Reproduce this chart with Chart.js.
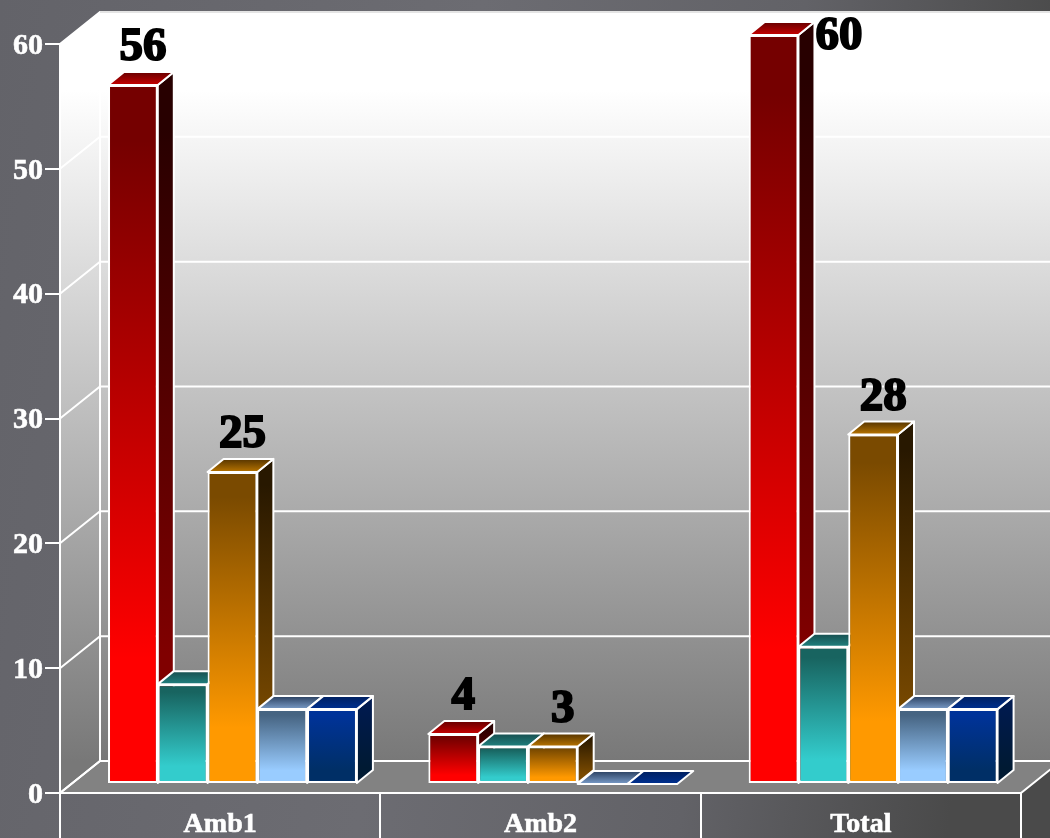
<!DOCTYPE html>
<html>
<head>
<meta charset="utf-8">
<style>
  html, body { margin: 0; padding: 0; background: #66666c; overflow: hidden; }
  canvas { display: block; }
</style>
<script src="https://cdn.jsdelivr.net/npm/chart.js@4/dist/chart.umd.min.js"></script>
</head>
<body>
<canvas id="barChart" width="1050" height="838"></canvas>
<script>
const categories = ['Amb1', 'Amb2', 'Total'];
const series1 = [56, 4, 60];
const series2 = [8, 3, 11];
const series3 = [25, 3, 28];
const series4 = [6, 0, 6];
const series5 = [6, 0, 6];
const yTicks = [0, 10, 20, 30, 40, 50, 60];

const SERIF = '"Liberation Serif", serif';
const WALL_X = 40, WALL_Y = 32;     // depth of the chart box
const BAR_X = 12.3, BAR_Y = 9;      // where the bars sit on the floor
const DEPTH_X = 16, DEPTH_Y = 13;   // depth of one bar

// colours: [front top, front bottom, side top, side bottom, lid back, lid front]
const palettes = [
    ['#750000', '#ff0000', '#280000', '#800000', '#660000', '#c80000'],
    ['#186460', '#33cccc', '#0c3230', '#186460', '#184f50', '#20807e'],
    ['#7a4a00', '#ff9900', '#281800', '#7a4a00', '#553400', '#b87400'],
    ['#466482', '#99ccff', '#1c2a3a', '#466482', '#2a4060', '#7a9cc8'],
    ['#003399', '#002f66', '#001a50', '#001a33', '#002060', '#003090']
];

function barGradient(c) {
    const pal = palettes[c.datasetIndex];
    if (!c.parsed) return pal[1];
    const y = c.chart.scales.y;
    const top = y.getPixelForValue(c.parsed.y), base = y.getPixelForValue(0);
    // options also get resolved once before the layout has run
    if (!Number.isFinite(top) || !Number.isFinite(base) || base - top < 1) return pal[1];
    const g = c.chart.ctx.createLinearGradient(0, top, 0, base);
    g.addColorStop(0.08, pal[0]);
    g.addColorStop(0.82, pal[1]);
    return g;
}

function makeSet(values) {
    return {
        data: values,
        backgroundColor: barGradient,
        borderColor: '#ffffff',
        borderWidth: 2,
        borderSkipped: false,
        barPercentage: 1,
        categoryPercentage: 0.777
    };
}

function poly(ctx, pts, fill) {
    ctx.beginPath();
    pts.forEach((p, i) => i ? ctx.lineTo(p[0], p[1]) : ctx.moveTo(p[0], p[1]));
    ctx.closePath();
    ctx.fillStyle = fill;
    ctx.fill();
    ctx.stroke();
}

function drawDepth(ctx, meta, pal) {
    ctx.strokeStyle = '#ffffff';
    ctx.lineWidth = 2;
    ctx.lineJoin = 'round';
    meta.data.forEach(bar => {
        const p = bar.getProps(['x', 'y', 'base', 'width']);
        const l = p.x - p.width / 2, r = p.x + p.width / 2, t = p.y, b = p.base;
        if (b - t > 1) {
            const side = ctx.createLinearGradient(0, t - DEPTH_Y, 0, b);
            side.addColorStop(0.08, pal[2]);
            side.addColorStop(0.82, pal[3]);
            poly(ctx, [[r, t], [r + DEPTH_X, t - DEPTH_Y], [r + DEPTH_X, b - DEPTH_Y], [r, b]], side);
        }
        const lid = ctx.createLinearGradient(0, t - DEPTH_Y, 0, t);
        lid.addColorStop(0, pal[4]);
        lid.addColorStop(1, pal[5]);
        poly(ctx, [[l, t], [l + DEPTH_X, t - DEPTH_Y], [r + DEPTH_X, t - DEPTH_Y], [r, t]], lid);
    });
}

const box3d = {
    id: 'box3d',
    beforeDraw(chart) {
        const ctx = chart.ctx, a = chart.chartArea, y = chart.scales.y;
        const bg = ctx.createLinearGradient(0, 0, 1050, 160);
        bg.addColorStop(0, '#636369');
        bg.addColorStop(0.45, '#6c6c72');
        bg.addColorStop(0.75, '#626267');
        bg.addColorStop(1, '#4a4a4a');
        ctx.fillStyle = bg;
        ctx.fillRect(0, 0, chart.width, chart.height);

        const bx = a.left + WALL_X, by = a.bottom - WALL_Y, rx = a.right + WALL_X, ty = a.top - WALL_Y;
        const wall = ctx.createLinearGradient(0, 90, 0, by);
        wall.addColorStop(0, '#ffffff');
        wall.addColorStop(1, '#787878');
        ctx.save();
        ctx.strokeStyle = '#ffffff';
        ctx.lineWidth = 2;
        ctx.fillStyle = wall;
        ctx.fillRect(bx, ty, rx - bx, by - ty);
        // left wall
        ctx.beginPath();
        ctx.moveTo(a.left, a.bottom); ctx.lineTo(bx, by); ctx.lineTo(bx, ty); ctx.lineTo(a.left, a.top);
        ctx.closePath();
        ctx.fill();
        // floor
        poly(ctx, [[a.left, a.bottom], [bx, by], [rx, by], [a.right, a.bottom]], '#828282');
        // grid on both walls
        yTicks.forEach(v => {
            const p = y.getPixelForValue(v);
            ctx.beginPath();
            ctx.moveTo(a.left, p); ctx.lineTo(bx, p - WALL_Y); ctx.lineTo(rx, p - WALL_Y);
            ctx.stroke();
        });
        ctx.beginPath();
        ctx.moveTo(bx, by); ctx.lineTo(bx, ty);
        ctx.stroke();
        ctx.strokeStyle = '#e4e4e4';
        ctx.beginPath();
        ctx.moveTo(bx, ty); ctx.lineTo(rx, ty);
        ctx.stroke();
        ctx.restore();
    },
    // the library paints the last series first, here it has to be the other way round
    beforeDatasetDraw() {
        return false;
    },
    afterDatasetsDraw(chart) {
        const ctx = chart.ctx;
        ctx.save();
        ctx.translate(BAR_X, -BAR_Y);
        chart.data.datasets.forEach((ds, i) => {
            const meta = chart.getDatasetMeta(i);
            drawDepth(ctx, meta, palettes[i]);
            meta.controller.draw();
        });
        ctx.restore();

        // value labels, only on the red and the orange bars
        ctx.save();
        ctx.font = 'bold 47px ' + SERIF;
        ctx.fillStyle = '#000000';
        ctx.strokeStyle = '#000000';
        ctx.lineWidth = 2;
        ctx.textBaseline = 'middle';
        [0, 2].forEach(i => {
            chart.getDatasetMeta(i).data.forEach((bar, n) => {
                const txt = String(chart.data.datasets[i].data[n]);
                const top = bar.y - BAR_Y;
                let x = bar.x + BAR_X + 10, yy = top - 37;
                ctx.textAlign = 'center';
                if (yy < 20) { // no room above, goes to the right of the bar
                    x = bar.x + BAR_X + bar.width / 2 + DEPTH_X + 1;
                    yy = top + 2;
                    ctx.textAlign = 'left';
                }
                ctx.fillText(txt, x, yy);
                ctx.strokeText(txt, x, yy);
            });
        });
        ctx.restore();
    }
};

new Chart(document.getElementById('barChart').getContext('2d'), {
    type: 'bar',
    data: {
        labels: categories,
        datasets: [series1, series2, series3, series4, series5].map(makeSet)
    },
    plugins: [box3d],
    options: {
        responsive: false,
        animation: false,
        layout: { padding: { top: 44, right: 29, left: 0, bottom: 0 } },
        plugins: { legend: { display: false }, tooltip: { enabled: false } },
        scales: {
            x: {
                afterFit(s) { s.height = 45; },
                border: { color: '#ffffff', width: 2 },
                grid: { drawOnChartArea: false, color: '#ffffff', lineWidth: 2, tickLength: 45 },
                ticks: {
                    color: '#ffffff',
                    font: { family: SERIF, weight: 'bold', size: 28 },
                    textStrokeColor: '#ffffff',
                    textStrokeWidth: 0.6,
                    maxRotation: 0,
                    padding: -30
                }
            },
            y: {
                min: 0,
                max: 60,
                afterFit(s) { s.width = 60; },
                afterBuildTicks(s) { s.ticks = yTicks.map(v => ({ value: v })); },
                border: { color: '#ffffff', width: 2 },
                grid: { drawOnChartArea: false, color: '#ffffff', lineWidth: 2, tickLength: 15 },
                ticks: {
                    color: '#ffffff',
                    font: { family: SERIF, weight: 'bold', size: 30 },
                    textStrokeColor: '#ffffff',
                    textStrokeWidth: 0.6,
                    labelOffset: 2,
                    padding: 2
                }
            }
        }
    }
});
</script>
</body>
</html>
